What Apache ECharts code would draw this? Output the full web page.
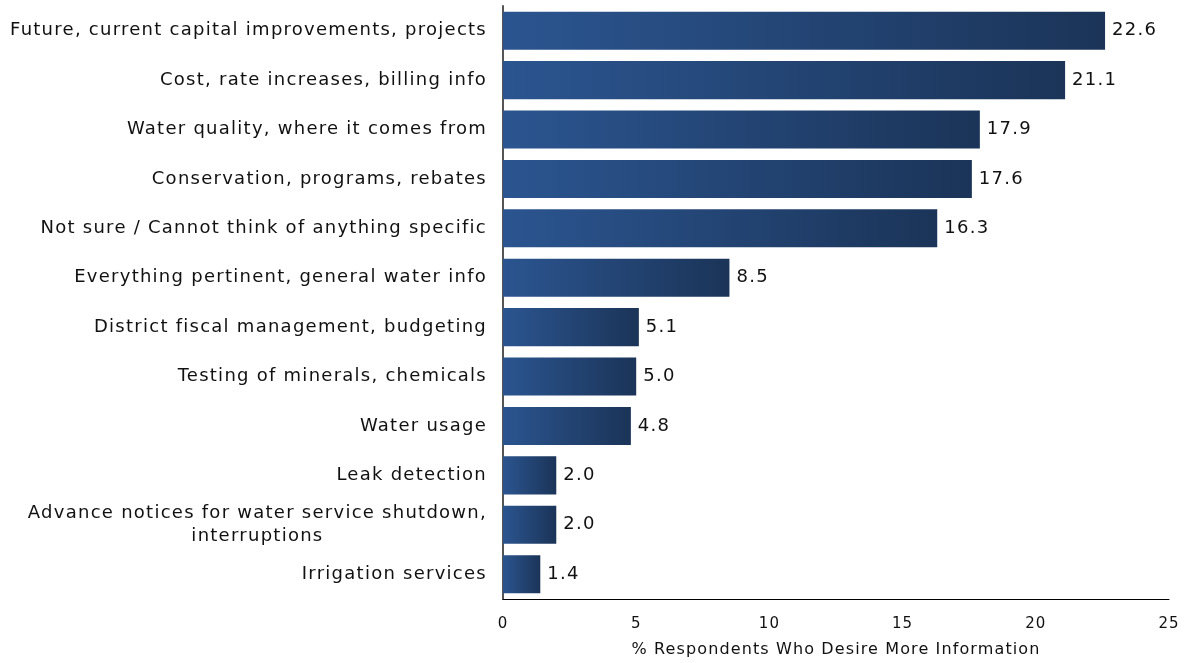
<!DOCTYPE html>
<html>
<head>
<meta charset="utf-8">
<script src="https://cdn.jsdelivr.net/npm/echarts@6/dist/echarts.min.js"></script>
<style>
  html, body { margin: 0; padding: 0; background: #fff; }
  #chart { width: 1184px; height: 663px; }
</style>
</head>
<body>
<div id="chart"></div>
<script>
// Topics respondents want more information about (top to bottom)
const categories = [
  'Future, current capital improvements, projects',
  'Cost, rate increases, billing info',
  'Water quality, where it comes from',
  'Conservation, programs, rebates',
  'Not sure / Cannot think of anything specific',
  'Everything pertinent, general water info',
  'District fiscal management, budgeting',
  'Testing of minerals, chemicals',
  'Water usage',
  'Leak detection',
  'Advance notices for water service shutdown,\ninterruptions',
  'Irrigation services'
];
const values = [22.6, 21.1, 17.9, 17.6, 16.3, 8.5, 5.1, 5.0, 4.8, 2.0, 2.0, 1.4];
const xTicks = [0, 5, 10, 15, 20, 25];
const xTitle = '% Respondents Who Desire More Information';

const FONT = 'DejaVu Sans';
const TRACK = 0.07; // letter spacing, in em

// Tracked-out lettering: canvas letterSpacing for drawing, and the same
// spacing in text measurement so alignment and layout stay consistent.
function fontPx(font) {
  const m = /(\d+(?:\.\d+)?)px/.exec(font || '');
  return m ? parseFloat(m[1]) : 12;
}
const proto = CanvasRenderingContext2D.prototype;
const hasSpacing = 'letterSpacing' in proto;
if (hasSpacing) {
  const origFill = proto.fillText;
  proto.fillText = function (t, x, y, maxW) {
    this.letterSpacing = (fontPx(this.font) * TRACK) + 'px';
    return maxW === undefined ? origFill.call(this, t, x, y) : origFill.call(this, t, x, y, maxW);
  };
  const mctx = document.createElement('canvas').getContext('2d');
  echarts.setPlatformAPI({
    measureText: function (text, font) {
      mctx.font = font || '12px sans-serif';
      mctx.letterSpacing = (fontPx(mctx.font) * TRACK) + 'px';
      return mctx.measureText(text);
    }
  });
}

const chart = echarts.init(document.getElementById('chart'));

chart.setOption({
  animation: false,
  grid: { left: 503, right: 15, top: 6, bottom: 60, containLabel: false },
  xAxis: {
    type: 'value',
    min: xTicks[0],
    max: xTicks[xTicks.length - 1],
    interval: xTicks[1] - xTicks[0],
    splitLine: { show: false },
    axisTick: { show: false },
    axisLine: { show: true, lineStyle: { color: '#000', width: 1 } },
    axisLabel: { color: '#111', fontFamily: FONT, fontSize: 15, margin: 17 },
    name: xTitle,
    nameLocation: 'middle',
    nameGap: 42,
    nameTextStyle: { color: '#111', fontFamily: FONT, fontSize: 16 }
  },
  yAxis: {
    type: 'category',
    inverse: true,
    data: categories,
    axisTick: { show: false },
    axisLine: { show: true, lineStyle: { color: '#555', width: 2 } },
    axisLabel: {
      color: '#111',
      fontFamily: FONT,
      fontSize: 18,
      margin: 16,
      lineHeight: 23,
      formatter: function (v) {
        return v.split('\n').map(function (s) { return '{c|' + s + '}'; }).join('\n');
      },
      rich: {
        c: { align: 'center', fontFamily: FONT, fontSize: 18, color: '#111', lineHeight: 23 }
      }
    }
  },
  series: [{
    type: 'bar',
    data: values,
    barCategoryGap: '23%',
    itemStyle: {
      color: new echarts.graphic.LinearGradient(0, 0, 1, 0, [
        { offset: 0, color: '#2b5590' },
        { offset: 1, color: '#1b3458' }
      ])
    },
    label: {
      show: true,
      position: 'right',
      distance: 7,
      color: '#111',
      fontFamily: FONT,
      fontSize: 18,
      formatter: function (p) { return p.value.toFixed(1); }
    }
  }]
});
</script>
</body>
</html>
